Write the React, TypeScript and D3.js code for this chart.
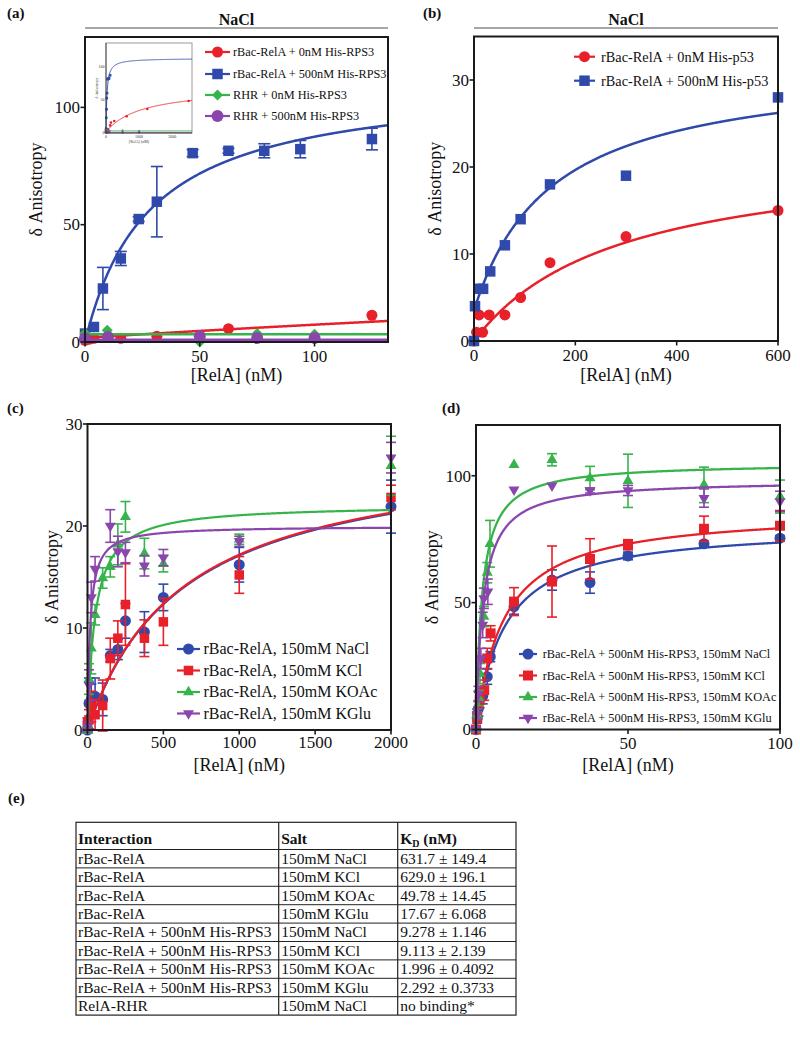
import React from "react";
import * as d3 from "d3";

const FONT = "Liberation Serif, Times New Roman, Times, serif";
const BLUE = "#2f4aab";
const RED = "#e8202a";
const GREEN = "#36b44b";
const PURPLE = "#8b46ad";

// ---------------- Panel (a): [RelA (nM), δ anisotropy, error]
const aLegend = ["rBac-RelA + 0nM His-RPS3", "rBac-RelA + 500nM His-RPS3", "RHR + 0nM His-RPS3", "RHR + 500nM His-RPS3"];
const aRed = [[0, 0.7, 0], [2, 1.2, 0], [3.9, 1.6, 0], [15.6, 1.6, 0], [31.3, 2.4, 0], [62.5, 5.7, 0], [125, 11.4, 0], [150, 15.6, 0], [250, 18, 0], [625, 25, 3], [1250, 36, 0], [2500, 48, 0]];
const aBlue = [[0, 3.6, 0], [3.9, 6.4, 0], [7.8, 22.8, 9], [15.6, 35.6, 3], [23.4, 52.4, 1], [31.3, 59.8, 15], [46.9, 80.5, 1.5], [62.5, 81.5, 1], [78.1, 81.5, 3], [93.8, 82.2, 3.7], [125, 86.5, 4.6]];
const aGreen = [[0, 3.7, 0], [9.7, 5, 0], [50, 0, 0], [75, 3.6, 0], [100, 3.3, 0], [500, 4, 0], [1000, 3, 0]];
const aPurple = [[0, 1.5, 0], [10, 2.1, 0], [50, 2.4, 0], [75, 1.7, 0], [100, 1.7, 0], [500, 1, 0], [1000, 1, 0]];
// fitted binding curves: [offset, Bmax, KD]
const aFits = [[1.8, 67, 1100], [0, 112, 28], [3.3, 0, 1], [1.0, 0, 1]];
const aXTicks = [0, 50, 100];
const aYTicks = [0, 50, 100];
const insetXTicks = [0, 1000, 2000];
const insetYTicks = [0, 50, 100];

// ---------------- Panel (b)
const bLegend = ["rBac-RelA + 0nM His-p53", "rBac-RelA + 500nM His-p53"];
const bRed = [[0, 0, 0], [5, 1, 0], [10, 3, 0], [17, 1, 0], [30, 3, 0], [61, 3, 0], [92, 5, 0], [150, 9, 0], [300, 12, 0], [600, 15, 0]];
const bBlue = [[0, 0, 0], [2, 4, 0], [9, 6, 0], [18, 6, 0], [32, 8, 0], [61, 11, 0], [92, 14, 0], [150, 18, 0], [300, 19, 0], [600, 28, 0]];
const bFits = [[0, 22.1, 285], [3.5, 28.5, 152.7]];
const bXTicks = [0, 200, 400, 600];
const bYTicks = [0, 10, 20, 30];

// ---------------- Panel (c)
const cLegend = ["rBac-RelA, 150mM NaCl", "rBac-RelA, 150mM KCl", "rBac-RelA, 150mM KOAc", "rBac-RelA, 150mM KGlu"];
const cNaCl = [[0, 0, 0.3], [10, 2.6, 2.5], [25, 3.0, 1.5], [50, 3.3, 1.8], [100, 3.0, 1.6], [150, 7.3, 0.6], [200, 7.9, 1.0], [250, 10.7, 1.7], [375, 9.6, 2.0], [500, 13.0, 1.3], [1000, 16.2, 1.7], [2000, 21.9, 2.6]];
const cKCl = [[0, 0.7, 0.5], [10, 1.0, 1.0], [25, 2.3, 1.5], [50, 1.5, 1.5], [100, 2.4, 2.5], [150, 7.0, 2.0], [200, 9.0, 1.7], [250, 12.3, 4.0], [375, 9.0, 1.8], [500, 10.6, 2.3], [1000, 15.2, 1.8], [2000, 22.8, 1.2]];
const cKOAc = [[0, 0, 0.3], [10, 5.0, 1.5], [25, 8.0, 2.5], [50, 11.3, 1.0], [100, 14.9, 1.0], [150, 16.0, 1.0], [200, 18.2, 2.0], [250, 20.9, 1.5], [375, 17.3, 1.5], [500, 16.3, 0.8], [1000, 18.7, 0.5], [2000, 25.9, 2.9]];
const cKGlu = [[0, 0.3, 0.5], [10, 4.4, 1.5], [25, 13.0, 1.5], [50, 15.8, 1.2], [150, 20.0, 1.6], [200, 17.5, 1.5], [250, 17.4, 1.0], [375, 16.1, 1.0], [500, 16.9, 0.8], [1000, 18.5, 0.5], [2000, 26.7, 1.5]];
const cFits = [[0, 27.9, 631.7], [0, 28.0, 629.0], [0, 22.1, 49.78], [0, 20.0, 17.67]];
const cXTicks = [0, 500, 1000, 1500, 2000];
const cYTicks = [0, 10, 20, 30];

// ---------------- Panel (d)
const dLegend = ["rBac-RelA + 500nM His-RPS3, 150mM NaCl", "rBac-RelA + 500nM His-RPS3, 150mM KCl", "rBac-RelA + 500nM His-RPS3, 150mM KOAc", "rBac-RelA + 500nM His-RPS3, 150mM KGlu"];
const dNaCl = [[0, 0, 0.5], [0.4, 4.5, 2], [0.8, 8.3, 3], [2.2, 13.1, 3], [3.7, 20.8, 3], [4.7, 28.7, 2], [12.5, 48.4, 3], [25, 58.9, 4], [37.5, 57.9, 4.2], [50, 68.4, 1.5], [75, 73.2, 1], [100, 75.4, 1]];
const dKCl = [[0, 0, 0.5], [0.4, 5, 2], [1.2, 11.6, 3], [2.7, 15.5, 4], [3.7, 28.0, 4], [4.8, 37.9, 3], [12.5, 50.4, 5.5], [25, 58.3, 14], [37.5, 67.2, 8], [50, 72.8, 2], [75, 79.1, 5], [100, 80.3, 6]];
const dKOAc = [[0, 0, 0.5], [0.4, 6, 2], [1, 12.4, 3], [1.3, 22, 4], [2.6, 44.5, 4], [3.7, 61.8, 4], [4.6, 73.2, 9.2], [12.5, 104.3, 0], [25, 106.3, 2.4], [37.5, 99.1, 4.6], [50, 98, 10.5], [75, 96.4, 7], [100, 91.8, 6.5]];
const dKGlu = [[0, 0, 0.5], [0.4, 6, 2], [0.8, 14, 3], [1.6, 28, 4], [2.2, 41.2, 5], [2.6, 51.7, 4], [3.9, 54.3, 5], [12.5, 94.5, 0], [25, 96.1, 0], [37.5, 94.2, 1], [50, 94.2, 2], [75, 91.2, 3.6], [100, 89.9, 4]];
const dFits = [[0, 80.5, 9.278], [0, 86.5, 9.113], [0, 105.1, 1.996], [0, 98.3, 2.292]];
const dXTicks = [0, 50, 100];
const dYTicks = [0, 50, 100];

// ---------------- Table (e)
const tInteraction = ["rBac-RelA", "rBac-RelA", "rBac-RelA", "rBac-RelA", "rBac-RelA + 500nM His-RPS3", "rBac-RelA + 500nM His-RPS3", "rBac-RelA + 500nM His-RPS3", "rBac-RelA + 500nM His-RPS3", "RelA-RHR"];
const tSalt = ["150mM NaCl", "150mM KCl", "150mM KOAc", "150mM KGlu", "150mM NaCl", "150mM KCl", "150mM KOAc", "150mM KGlu", "150mM NaCl"];
const tKd = ["631.7 ± 149.4", "629.0 ± 196.1", "49.78 ± 14.45", "17.67 ± 6.068", "9.278 ± 1.146", "9.113 ± 2.139", "1.996 ± 0.4092", "2.292 ± 0.3733", "no binding*"];

type Series = { data: number[][]; color: string; shape: string; size: number; fit: number[]; lw: number; cap: number };

const fitY = (p: number[], x: number) => p[0] + (p[1] * x) / (p[2] + x);

function markerPath(shape: string, w: number) {
  let type: any = d3.symbolSquare;
  let area = w * w;
  if (shape === "circle") { type = d3.symbolCircle; area = Math.PI * (w / 2) * (w / 2); }
  else if (shape === "up" || shape === "down") { type = d3.symbolTriangle; area = (Math.sqrt(3) / 4) * w * w; }
  else if (shape === "diamond") { area = (w / Math.SQRT2) * (w / Math.SQRT2); }
  return d3.symbol().type(type).size(area)() as string;
}
function Marker({ shape, x, y, w, color }: { shape: string; x: number; y: number; w: number; color: string }) {
  const rot = shape === "diamond" ? 45 : shape === "down" ? 180 : 0;
  return <path d={markerPath(shape, w)} transform={`translate(${x},${y}) rotate(${rot})`} fill={color} />;
}

type PanelProps = {
  id: string; x0: number; x1: number; yTop: number; yBot: number;
  xDomain: number[]; yDomain: number[]; xTicks: number[]; yTicks: number[];
  series: Series[]; tickFont: number; tickGap: number; frameW: number;
  yTitleX: number; xTitleY: number; children?: any;
};

function Panel(p: PanelProps) {
  const xs = d3.scaleLinear().domain(p.xDomain).range([p.x0, p.x1]);
  const ys = d3.scaleLinear().domain(p.yDomain).range([p.yBot, p.yTop]);
  const [xmin, xmax] = p.xDomain;
  const line = d3.line<number[]>().x((d) => xs(d[0])).y((d) => ys(d[1]));
  const pxs = d3.range(p.x0, p.x1 + 0.01, 0.5).map((px) => Math.max(xmin, Math.min(xmax, xs.invert(px))));
  return (
    <g>
      <defs>
        <clipPath id={`clip-${p.id}`}>
          <rect x={p.x0} y={p.yTop} width={p.x1 - p.x0} height={p.yBot - p.yTop} />
        </clipPath>
      </defs>
      {p.series.map((s, i) => (
        <g key={i}>
          <path d={line(pxs.map((x) => [x, fitY(s.fit, x)])) as string} fill="none" stroke={s.color} strokeWidth={s.lw} clipPath={`url(#clip-${p.id})`} />
          {s.data.filter((d) => d[0] <= xmax).map((d, j) => {
            const xx = xs(d[0]);
            const e = d[2] || 0;
            return (
              <g key={j}>
                {e > 0 && (
                  <g stroke={s.color} strokeWidth={1.6}>
                    <line x1={xx} x2={xx} y1={ys(d[1] + e)} y2={ys(d[1] - e)} />
                    <line x1={xx - s.cap} x2={xx + s.cap} y1={ys(d[1] + e)} y2={ys(d[1] + e)} />
                    <line x1={xx - s.cap} x2={xx + s.cap} y1={ys(d[1] - e)} y2={ys(d[1] - e)} />
                  </g>
                )}
                <Marker shape={s.shape} x={xx} y={ys(d[1])} w={s.size} color={s.color} />
              </g>
            );
          })}
        </g>
      ))}
      <rect x={p.x0} y={p.yTop} width={p.x1 - p.x0} height={p.yBot - p.yTop} fill="none" stroke="#1a1a1a" strokeWidth={p.frameW} />
      {p.yTicks.map((t) => (
        <g key={"y" + t}>
          <line x1={p.x0 - 4.5} x2={p.x0} y1={ys(t)} y2={ys(t)} stroke="#1a1a1a" strokeWidth={1.6} />
          <text x={p.x0 - 5} y={ys(t)} dy="0.34em" textAnchor="end" fontSize={p.tickFont} fontFamily={FONT} fill="#111">{t}</text>
        </g>
      ))}
      {p.xTicks.map((t) => (
        <g key={"x" + t}>
          <line x1={xs(t)} x2={xs(t)} y1={p.yBot} y2={p.yBot + 4.5} stroke="#1a1a1a" strokeWidth={1.6} />
          <text x={xs(t)} y={p.yBot + p.tickGap} textAnchor="middle" fontSize={p.tickFont} fontFamily={FONT} fill="#111">{t}</text>
        </g>
      ))}
      <text transform={`translate(${p.yTitleX},${(p.yTop + p.yBot) / 2}) rotate(-90)`} textAnchor="middle" fontSize={18} fontFamily={FONT} fill="#111">δ Anisotropy</text>
      <text x={(p.x0 + p.x1) / 2} y={p.xTitleY} textAnchor="middle" fontSize={18} fontFamily={FONT} fill="#111">[RelA] (nM)</text>
      {p.children}
    </g>
  );
}

function Legend({ items, series, ys, lx0, lx1, tx, font }: { items: string[]; series: Series[]; ys: number[]; lx0: number; lx1: number; tx: number; font: number }) {
  return (
    <g>
      {items.map((name, i) => (
        <g key={i}>
          <line x1={lx0} x2={lx1} y1={ys[i]} y2={ys[i]} stroke={series[i].color} strokeWidth={2.2} />
          <Marker shape={series[i].shape} x={(lx0 + lx1) / 2} y={ys[i]} w={series[i].size} color={series[i].color} />
          <text x={tx} y={ys[i]} dy="0.34em" fontSize={font} fontFamily={FONT} fill="#111">{name}</text>
        </g>
      ))}
    </g>
  );
}

function Inset({ series }: { series: Series[] }) {
  const x0 = 106, x1 = 192, yTop = 43, yBot = 133;
  const xs = d3.scaleLinear().domain([0, 2600]).range([x0, x1]);
  const ys = d3.scaleLinear().domain([0, 135]).range([yBot, yTop]);
  const line = d3.line<number[]>().x((d) => xs(d[0])).y((d) => ys(d[1]));
  const pxs = d3.range(x0, x1 + 0.01, 0.25).map((px) => Math.max(0, xs.invert(px)));
  return (
    <g>
      <rect x={x0} y={yTop} width={x1 - x0} height={yBot - yTop} fill="white" stroke="#9a9a9a" strokeWidth={1} />
      {series.map((s, i) => (
        <g key={i}>
          <path d={line(pxs.map((x) => [x, fitY(s.fit, x)])) as string} fill="none" stroke={s.color} strokeWidth={0.9} />
          {s.data.map((d, j) => (
            <Marker key={j} shape={s.shape} x={xs(d[0])} y={ys(d[1])} w={2.6} color={s.color} />
          ))}
        </g>
      ))}
      <line x1={x0} x2={x0} y1={yTop} y2={yBot} stroke="#333" strokeWidth={0.8} />
      <line x1={x0} x2={x1} y1={yBot} y2={yBot} stroke="#333" strokeWidth={0.8} />
      {insetYTicks.map((t) => (
        <text key={t} x={x0 - 1.5} y={ys(t)} dy="0.34em" textAnchor="end" fontSize={4} fontFamily={FONT} fill="#333">{t}</text>
      ))}
      {insetXTicks.map((t) => (
        <text key={t} x={xs(t)} y={yBot + 5} textAnchor="middle" fontSize={4} fontFamily={FONT} fill="#333">{t}</text>
      ))}
      <text x={(x0 + x1) / 2 - 10} y={yBot + 10} textAnchor="middle" fontSize={4} fontFamily={FONT} fill="#333">[RelA] (nM)</text>
      <text transform={`translate(${x0 - 8},${(yTop + yBot) / 2}) rotate(-90)`} textAnchor="middle" fontSize={4} fontFamily={FONT} fill="#333">δ Anisotropy</text>
    </g>
  );
}

export default function App() {
  const aSeries: Series[] = [
    { data: aRed, color: RED, shape: "circle", size: 11, fit: aFits[0], lw: 2.5, cap: 6 },
    { data: aBlue, color: BLUE, shape: "square", size: 10.5, fit: aFits[1], lw: 2.5, cap: 6 },
    { data: aGreen, color: GREEN, shape: "diamond", size: 11, fit: aFits[2], lw: 2.5, cap: 6 },
    { data: aPurple, color: PURPLE, shape: "circle", size: 12, fit: aFits[3], lw: 2.5, cap: 6 },
  ];
  const bSeries: Series[] = [
    { data: bRed, color: RED, shape: "circle", size: 11, fit: bFits[0], lw: 2.5, cap: 5 },
    { data: bBlue, color: BLUE, shape: "square", size: 10.5, fit: bFits[1], lw: 2.5, cap: 5 },
  ];
  const cSeries: Series[] = [
    { data: cNaCl, color: BLUE, shape: "circle", size: 11, fit: cFits[0], lw: 2.2, cap: 5 },
    { data: cKCl, color: RED, shape: "square", size: 9.5, fit: cFits[1], lw: 2.2, cap: 5 },
    { data: cKOAc, color: GREEN, shape: "up", size: 11, fit: cFits[2], lw: 2.2, cap: 5 },
    { data: cKGlu, color: PURPLE, shape: "down", size: 11, fit: cFits[3], lw: 2.2, cap: 5 },
  ];
  const dSeries: Series[] = [
    { data: dNaCl, color: BLUE, shape: "circle", size: 11, fit: dFits[0], lw: 2.3, cap: 5 },
    { data: dKCl, color: RED, shape: "square", size: 10, fit: dFits[1], lw: 2.3, cap: 5 },
    { data: dKOAc, color: GREEN, shape: "up", size: 11, fit: dFits[2], lw: 2.3, cap: 5 },
    { data: dKGlu, color: PURPLE, shape: "down", size: 11, fit: dFits[3], lw: 2.3, cap: 5 },
  ];

  // table geometry
  const colX = [76, 278.7, 397.7, 516];
  const tTop = 822.3, headH = 27.2, rowH = 18.4;
  const tBot = tTop + headH + rowH * tInteraction.length;

  const panelLabel = (t: string, x: number, y: number) => (
    <text x={x} y={y} fontSize={15} fontWeight="bold" fontFamily={FONT} fill="#111">{t}</text>
  );

  return (
    <svg width={800} height={1042} style={{ position: "absolute", left: 0, top: 0, background: "white" }}>
      <rect x={0} y={0} width={800} height={1042} fill="white" />
      {panelLabel("(a)", 7, 18)}
      {panelLabel("(b)", 423, 18)}
      {panelLabel("(c)", 7, 413)}
      {panelLabel("(d)", 442, 413)}
      {panelLabel("(e)", 8, 803)}

      {/* NaCl headers */}
      <text x={236.5} y={25} textAnchor="middle" fontSize={16} fontWeight="bold" fontFamily={FONT} fill="#111">NaCl</text>
      <line x1={85} x2={388} y1={28} y2={28} stroke="#8a8a8a" strokeWidth={1.5} />
      <text x={626} y={25} textAnchor="middle" fontSize={16} fontWeight="bold" fontFamily={FONT} fill="#111">NaCl</text>
      <line x1={474} x2={778} y1={28} y2={28} stroke="#8a8a8a" strokeWidth={1.5} />

      <Panel id="a" x0={85} x1={388} yTop={37} yBot={342} xDomain={[0, 132]} yDomain={[0, 130]} xTicks={aXTicks} yTicks={aYTicks}
        series={aSeries} tickFont={17} tickGap={20} frameW={2} yTitleX={41.5} xTitleY={381}>
        <Inset series={aSeries} />
        <Legend items={aLegend} series={aSeries} ys={[52, 74, 95, 116]} lx0={205} lx1={230} tx={233} font={12.3} />
      </Panel>

      <Panel id="b" x0={474} x1={778} yTop={36.5} yBot={341} xDomain={[0, 600]} yDomain={[0, 35]} xTicks={bXTicks} yTicks={bYTicks}
        series={bSeries} tickFont={17} tickGap={20} frameW={2} yTitleX={441} xTitleY={381}>
        <Legend items={bLegend} series={bSeries} ys={[56.7, 80.7]} lx0={574} lx1={595} tx={601} font={14.3} />
      </Panel>

      <Panel id="c" x0={87.5} x1={391} yTop={424} yBot={730} xDomain={[0, 2000]} yDomain={[0, 30]} xTicks={cXTicks} yTicks={cYTicks}
        series={cSeries} tickFont={17} tickGap={17.5} frameW={2} yTitleX={57.5} xTitleY={771}>
        <Legend items={cLegend} series={cSeries} ys={[649, 670.5, 692, 713.5]} lx0={177} lx1={200} tx={203.5} font={16} />
      </Panel>

      <Panel id="d" x0={476} x1={780} yTop={425} yBot={729.5} xDomain={[0, 100]} yDomain={[0, 120]} xTicks={dXTicks} yTicks={dYTicks}
        series={dSeries} tickFont={17} tickGap={19} frameW={2} yTitleX={437.5} xTitleY={771}>
        <Legend items={dLegend} series={dSeries} ys={[654, 675.5, 697, 718]} lx0={519} lx1={537} tx={542.7} font={12.3} />
      </Panel>

      {/* Table (e) */}
      <g fontFamily={FONT} fontSize={15.5} fill="#111">
        <rect x={colX[0]} y={tTop} width={colX[3] - colX[0]} height={tBot - tTop} fill="none" stroke="#222" strokeWidth={1.2} />
        {[colX[1], colX[2]].map((x) => (
          <line key={x} x1={x} x2={x} y1={tTop} y2={tBot} stroke="#222" strokeWidth={1.2} />
        ))}
        {d3.range(tInteraction.length).map((i) => (
          <line key={i} x1={colX[0]} x2={colX[3]} y1={tTop + headH + i * rowH} y2={tTop + headH + i * rowH} stroke="#222" strokeWidth={1} />
        ))}
        <text x={colX[0] + 2} y={tTop + 22} fontWeight="bold">Interaction</text>
        <text x={colX[1] + 2.5} y={tTop + 22} fontWeight="bold">Salt</text>
        <text x={colX[2] + 2.5} y={tTop + 22} fontWeight="bold">
          K<tspan fontSize={10} dy={3}>D</tspan><tspan dy={-3}> (nM)</tspan>
        </text>
        {tInteraction.map((t, i) => {
          const y = tTop + headH + i * rowH + 14.3;
          return (
            <g key={i}>
              <text x={colX[0] + 2} y={y}>{t}</text>
              <text x={colX[1] + 2.5} y={y}>{tSalt[i]}</text>
              <text x={colX[2] + 2.5} y={y}>{tKd[i]}</text>
            </g>
          );
        })}
      </g>
    </svg>
  );
}
